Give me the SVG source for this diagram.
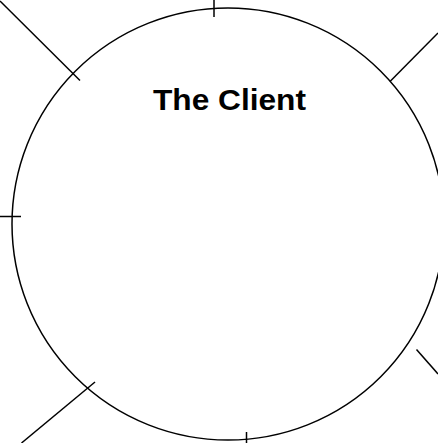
<svg xmlns="http://www.w3.org/2000/svg" width="438" height="443" viewBox="0 0 438 443">
<style>
.s{fill:none;stroke:#000;stroke-width:1.5}
.t{font-family:"Liberation Sans",Arial,sans-serif;font-weight:bold;font-size:29px;fill:#000}
</style>
<rect width="438" height="443" fill="#fff"/>
<g id="client">
<circle class="s" cx="228" cy="224" r="216"/>
<text class="t" x="229.5" y="109.5" text-anchor="middle" textLength="153" lengthAdjust="spacingAndGlyphs">The Client</text>
</g>
<g id="ports">
<line class="s" x1="214" y1="0" x2="214" y2="17"/>
<line class="s" x1="246.5" y1="432" x2="246.5" y2="443"/>
<line class="s" x1="0" y1="216.5" x2="21" y2="216.5"/>
</g>
<g id="connectors">
<line class="s" x1="0" y1="1" x2="80" y2="80.5"/>
<line class="s" x1="438" y1="33" x2="390" y2="81.5"/>
<line class="s" x1="416.5" y1="349.5" x2="438" y2="374"/>
<line class="s" x1="21.5" y1="443" x2="95" y2="382"/>
</g>
</svg>
